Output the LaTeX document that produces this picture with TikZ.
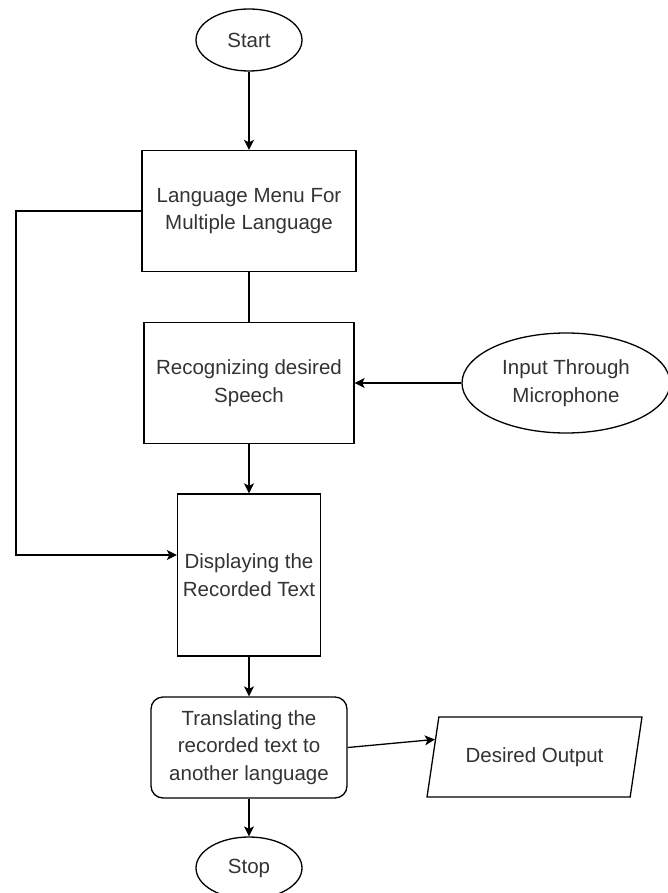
\documentclass[tikz,border=0pt]{standalone}
\usepackage{fontspec}
\setmainfont{Liberation Sans}
\usepackage{tikz}
\usetikzlibrary{shapes.geometric,arrows.meta}
\tikzstyle{startstop} = [ellipse, draw, align=center, minimum width=106pt, minimum height=62pt, inner sep=0pt]
\tikzstyle{process} = [rectangle, draw, align=center, inner sep=0pt]
\tikzstyle{io} = [trapezium, draw, trapezium left angle=66, trapezium right angle=114,
    trapezium stretches=true, minimum width=215pt, minimum height=80pt, inner sep=0pt]
\tikzstyle{arrow} = [->, >={Stealth[length=10pt,width=10pt,inset=2.5pt]}]

\begin{document}
\begin{tikzpicture}[x=1pt, y=-1pt, line width=1.3pt, text=black!80,
    font=\fontsize{20.5}{27.5}\selectfont]
        \useasboundingbox (0,0) rectangle (667,893);
        \node[startstop] (Start) at (249,40) {Start}; %start
        \node[process, minimum width=214pt, minimum height=121pt] (LangMenu) at (249,211) {Language Menu For\\Multiple Language}; %menu
        \node[process, minimum width=210pt, minimum height=121pt] (Recognize) at (249,383) {Recognizing desired\\Speech}; %speech
        \node[startstop, minimum width=208pt, minimum height=100pt] (Mic) at (566,383) {Input Through\\Microphone}; %input
        \node[process, minimum width=143pt, minimum height=162pt] (Display) at (249,575) {Displaying the\\Recorded Text}; %display
        \node[process, rounded corners=12pt, minimum width=196pt, minimum height=101pt] (Translate) at (249,747.5) {Translating the\\recorded text to\\another language}; %translate
        \node[io] (Output) at (534.5,757) {Desired Output}; %output
        \node[startstop] (Stop) at (249,868) {Stop}; %stop
        \coordinate (LoopCorner) at (16,211);
        \draw[arrow] (Start) -- (LangMenu);
        \draw (LangMenu) -- (Recognize);
        \draw[arrow] (Mic) -- (Recognize);
        \draw[arrow] (Recognize) -- (Display);
        \draw[arrow] (LangMenu.west) -- (LoopCorner) |- ([yshift=20pt]Display.west);
        \draw[arrow] (Display) -- (Translate);
        \draw[arrow] (Translate.east) -- (Output.170);
        \draw[arrow] (Translate) -- (Stop);
    \end{tikzpicture}
\end{document}
